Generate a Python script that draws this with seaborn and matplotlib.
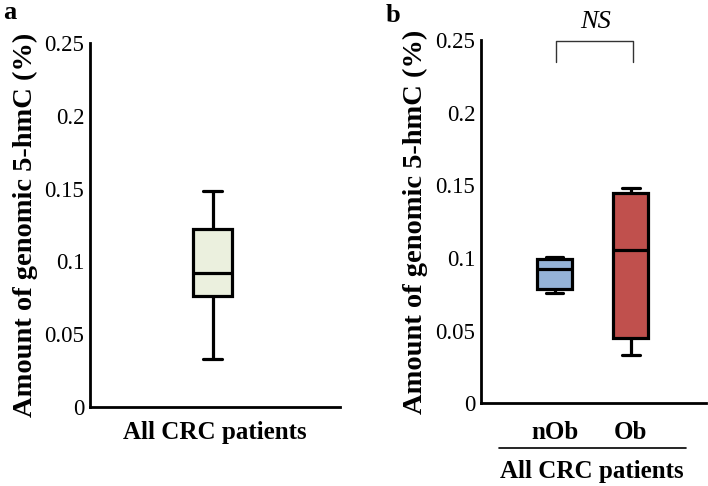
import numpy as np
import pandas as pd
import matplotlib
matplotlib.use("Agg")
import matplotlib.pyplot as plt
from matplotlib.lines import Line2D
import seaborn as sns

# five-number summaries (min, Q1, median, Q3, max)
all_crc = [0.033, 0.0765, 0.092, 0.1225, 0.148]
nob = [0.0757, 0.0787, 0.0922, 0.0993, 0.1005]
ob = [0.0332, 0.0447, 0.1055, 0.1445, 0.1484]
groups = ["nOb", "Ob"]
yticks = [0, 0.05, 0.1, 0.15, 0.2, 0.25]
ytick_labels = ["0", "0.05", "0.1", "0.15", "0.2", "0.25"]

col_all = "#EBF0DE"
col_nob = "#95B3D7"
col_ob = "#C0504D"

sns.set_theme(style="white")
plt.rcParams["font.family"] = ["Liberation Serif", "DejaVu Serif"]
plt.rcParams["text.color"] = "black"
plt.rcParams["axes.labelcolor"] = "black"
plt.rcParams["xtick.color"] = "black"
plt.rcParams["ytick.color"] = "black"

fig = plt.figure(figsize=(7.08, 4.86), dpi=100)
ax1 = fig.add_axes([0.127, 0.1626, 0.353, 0.749])
ax2 = fig.add_axes([0.679, 0.170, 0.318, 0.748])

box_kw = dict(whis=(0, 100), linewidth=2.3, linecolor="black",
              showcaps=True, fliersize=0)

# panel a
df_a = pd.DataFrame({"grp": ["All"] * len(all_crc), "val": all_crc})
sns.boxplot(data=df_a, x="grp", y="val", ax=ax1, width=0.8,
            color=col_all, saturation=1, **box_kw)
ax1.set_xlim(-2.58, 2.68)

# panel b
df_b = pd.DataFrame({"grp": ["nOb"] * len(nob) + ["Ob"] * len(ob),
                     "val": nob + ob})
sns.boxplot(data=df_b, x="grp", y="val", hue="grp", order=groups, ax=ax2,
            width=0.46, palette=[col_nob, col_ob], saturation=1,
            legend=False, **box_kw)
ax2.set_xlim(-0.968, 1.982)

for ax in (ax1, ax2):
    ax.set_ylim(0, 0.25)
    ax.set_yticks(yticks)
    ax.set_yticklabels(ytick_labels, fontsize=16.5)
    ax.tick_params(axis="y", length=0, pad=4)
    ax.tick_params(axis="x", length=0)
    for s in ["top", "right"]:
        ax.spines[s].set_visible(False)
    for s in ["left", "bottom"]:
        ax.spines[s].set_color("black")
        ax.spines[s].set_linewidth(2)
    ax.set_ylabel("Amount of genomic 5-hmC (%)", fontsize=20.5,
                  fontweight="bold", labelpad=5)
    ax.set_xlabel("")

ax1.set_xticks([])
ax1.set_xlabel("All CRC patients", fontsize=18, fontweight="bold", labelpad=10)
ax2.set_xticks([0, 1])
ax2.set_xticklabels(groups, fontsize=18, fontweight="bold")
ax2.tick_params(axis="x", pad=13)

# significance bracket
ax2.plot([0.015, 0.015, 1.032, 1.032], [0.2345, 0.249, 0.249, 0.2345],
         color="#333333", lw=1, clip_on=False)
ax2.text(0.54, 0.255, "NS", fontsize=19, style="italic",
         ha="center", va="bottom")

# group line and label below panel b
fig.add_artist(Line2D([499 / 708, 686 / 708], [0.078, 0.078],
                      color="black", lw=1.2))
fig.text(0.836, 0.029, "All CRC patients", fontsize=18, fontweight="bold",
         ha="center", va="center")

fig.text(0.005, 0.975, "a", fontsize=19, fontweight="bold", va="center")
fig.text(0.545, 0.968, "b", fontsize=19, fontweight="bold", va="center")

fig.savefig("out.png", dpi=100)
